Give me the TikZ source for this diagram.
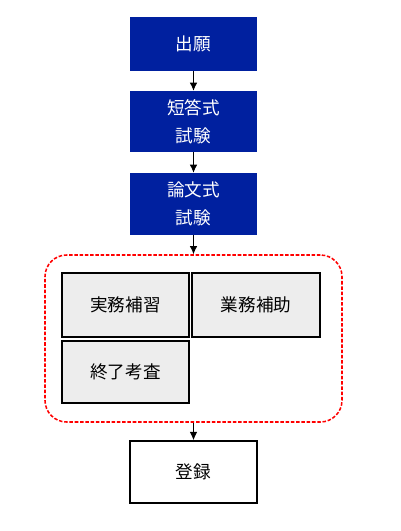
\documentclass[tikz,border=0pt]{standalone}
\usepackage{fontspec}
\setmainfont{Noto Sans CJK JP}
\usetikzlibrary{arrows.meta}
\definecolor{flowblue}{HTML}{00209F}
\definecolor{boxgray}{HTML}{EDEDED}
\definecolor{grpred}{HTML}{FF0000}

\begin{document}
\begin{tikzpicture}[x=0.03cm,y=-0.03cm,
  bluebox/.style={fill=flowblue,text=white,minimum width=3.81cm,align=center,
    inner sep=0pt,font=\fontsize{15}{24}\selectfont},
  graybox/.style={draw=black,line width=1.5pt,fill=boxgray,minimum width=3.81cm,
    minimum height=1.92cm,inner sep=0pt,font=\fontsize{15}{24}\selectfont},
  arr/.style={-{Latex[length=7pt,width=6.5pt]},line width=0.8pt}]
  \useasboundingbox (0,0) rectangle (401,531);
  % main flow
  \node[bluebox,minimum height=1.62cm] (apply) at (193.5,44) {出願};
  \node[bluebox,minimum height=1.83cm] (short) at (193.5,121.5) {短答式\\試験};
  \node[bluebox,minimum height=1.86cm] (essay) at (193.5,204) {論文式\\試験};
  % dashed group
  \node[draw=grpred,dash pattern=on 3pt off 1.5pt,line width=1.3pt,rounded corners=0.65cm,
    minimum width=8.91cm,minimum height=5.01cm] (group) at (193.5,338.5) {};
  \node[graybox] (practice) at (125.5,305) {実務補習};
  \node[graybox,minimum width=3.84cm] (assist) at (256,305) {業務補助};
  \node[graybox,minimum height=1.86cm] (final) at (125.5,372) {終了考査};
  \node[graybox,fill=white,minimum height=1.86cm] (register) at (193.5,472) {登録};
  % arrows
  \draw[arr] (apply) -- (short);
  \draw[arr] (short) -- (essay);
  \draw[arr] (essay) -- (group);
  \draw[arr] (group) -- (register);
\end{tikzpicture}
\end{document}
